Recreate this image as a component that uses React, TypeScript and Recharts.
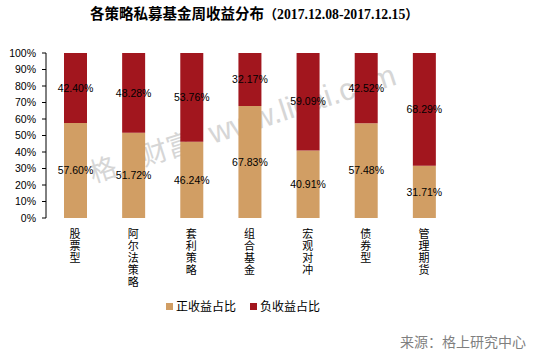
import React from 'react';
import { BarChart, Bar, XAxis, YAxis, LabelList, Legend } from 'recharts';

const categories = ['股票型', '阿尔法策略', '套利策略', '组合基金', '宏观对冲', '债券型', '管理期货'];
const positiveShare = [57.6, 51.72, 46.24, 67.83, 40.91, 57.48, 31.71];
const negativeShare = [42.4, 48.28, 53.76, 32.17, 59.09, 42.52, 68.29];
const yTicks = [0, 10, 20, 30, 40, 50, 60, 70, 80, 90, 100];
const boundaryTicks = [0, 1, 2, 3, 4, 5, 6, 7];
const seriesNames = ['正收益占比', '负收益占比'];
const seriesColors = ['#D19E64', '#A2161E'];
const titleMain = '各策略私募基金周收益分布';
const titlePeriod = '2017.12.08-2017.12.15';
const source = '来源：格上研究中心';
const watermarkCn = '格上财富';
const watermarkEn = 'www.licai.com';

const data = categories.map((name, i) => ({ name, pos: positiveShare[i], neg: negativeShare[i] }));

const numFont = '"Liberation Sans", Arial, sans-serif';
const cjkFont = '"Noto Sans CJK SC", sans-serif';
const serifFont = '"Liberation Serif", "Noto Sans CJK SC", serif';

const CategoryTick = (props: any) => {
  const { x, y, payload } = props;
  const chars = String(payload.value).split('');
  return (
    <text x={x} y={y + 20} textAnchor="middle" fontSize={11} fontFamily={cjkFont} fill="#000">
      {chars.map((c, i) => (
        <tspan key={i} x={x} dy={i === 0 ? 0 : 12}>{c}</tspan>
      ))}
    </text>
  );
};

const LegendContent = () => (
  <div style={{ display: 'flex', alignItems: 'center', fontFamily: cjkFont, fontSize: 12, color: '#000', whiteSpace: 'nowrap' }}>
    {seriesNames.map((n, i) => (
      <div key={n} style={{ display: 'flex', alignItems: 'center', marginRight: i === 0 ? 14 : 0 }}>
        <span style={{ display: 'inline-block', width: 7, height: 7, background: seriesColors[i], marginRight: 3 }} />
        <span style={{ lineHeight: '14px' }}>{n}</span>
      </div>
    ))}
  </div>
);

const fmt = (v: any) => `${Number(v).toFixed(2)}%`;

export default function App() {
  return (
    <div style={{ position: 'absolute', left: 0, top: 0, width: 539, height: 355, background: '#fff', overflow: 'hidden' }}>
      <svg width={539} height={355} style={{ position: 'absolute', left: 0, top: 0 }}>
        <text x={90} y={19} fontWeight="bold" fontFamily={serifFont} fill="#000">
          <tspan fontSize={14.5} fontFamily={cjkFont}>{titleMain}</tspan>
          <tspan fontSize={13} fontFamily={cjkFont}>（</tspan>
          <tspan fontSize={13.75}>{titlePeriod}</tspan>
          <tspan fontSize={13} fontFamily={cjkFont}>）</tspan>
        </text>
        <g transform="rotate(-18, 93, 183)">
          <text x={93} y={183} fill="#d6d6d6">
            <tspan fontSize={27} fontFamily={cjkFont}>{watermarkCn}</tspan>
            <tspan dx={18} fontSize={31} fontFamily={numFont}>{watermarkEn}</tspan>
          </text>
        </g>
        <text x={526} y={347} textAnchor="end" fontSize={14} fontFamily={cjkFont} fill="#7f7f7f">
          {source}
        </text>
      </svg>
      <div style={{ position: 'absolute', left: 0, top: 0 }}>
        <BarChart width={539} height={355} data={data} margin={{ top: 53, right: 86, left: 0, bottom: 77 }}>
          <YAxis
            width={46}
            domain={[0, 100]}
            ticks={yTicks}
            interval={0}
            tickFormatter={(v: number) => `${v}%`}
            tick={{ fontSize: 10.5, fontFamily: numFont, fill: '#000' }}
            tickSize={4}
            tickMargin={6}
            axisLine={{ stroke: '#000' }}
            tickLine={{ stroke: '#000' }}
          />
          <XAxis
            xAxisId="edge"
            type="number"
            domain={[0, 7]}
            ticks={boundaryTicks}
            interval={0}
            allowDataOverflow
            tick={false}
            tickSize={5}
            height={0}
            axisLine={{ stroke: '#000' }}
            tickLine={{ stroke: '#000' }}
          />
          <XAxis
            xAxisId="cat"
            dataKey="name"
            interval={0}
            height={60}
            tickSize={0}
            tickMargin={0}
            axisLine={false}
            tickLine={false}
            tick={<CategoryTick />}
          />
          <Legend
            layout="horizontal"
            verticalAlign="middle"
            align="center"
            wrapperStyle={{ top: 299, left: 166, width: 'auto' }}
            content={<LegendContent />}
          />
          <Bar xAxisId="cat" dataKey="pos" name={seriesNames[0]} stackId="s" fill={seriesColors[0]} barSize={23} isAnimationActive={false}>
            <LabelList dataKey="pos" position="center" formatter={fmt} style={{ fontSize: 10.5, fontFamily: numFont, fill: '#000' }} />
          </Bar>
          <Bar xAxisId="cat" dataKey="neg" name={seriesNames[1]} stackId="s" fill={seriesColors[1]} barSize={23} isAnimationActive={false}>
            <LabelList dataKey="neg" position="center" formatter={fmt} style={{ fontSize: 10.5, fontFamily: numFont, fill: '#000' }} />
          </Bar>
        </BarChart>
      </div>
    </div>
  );
}
